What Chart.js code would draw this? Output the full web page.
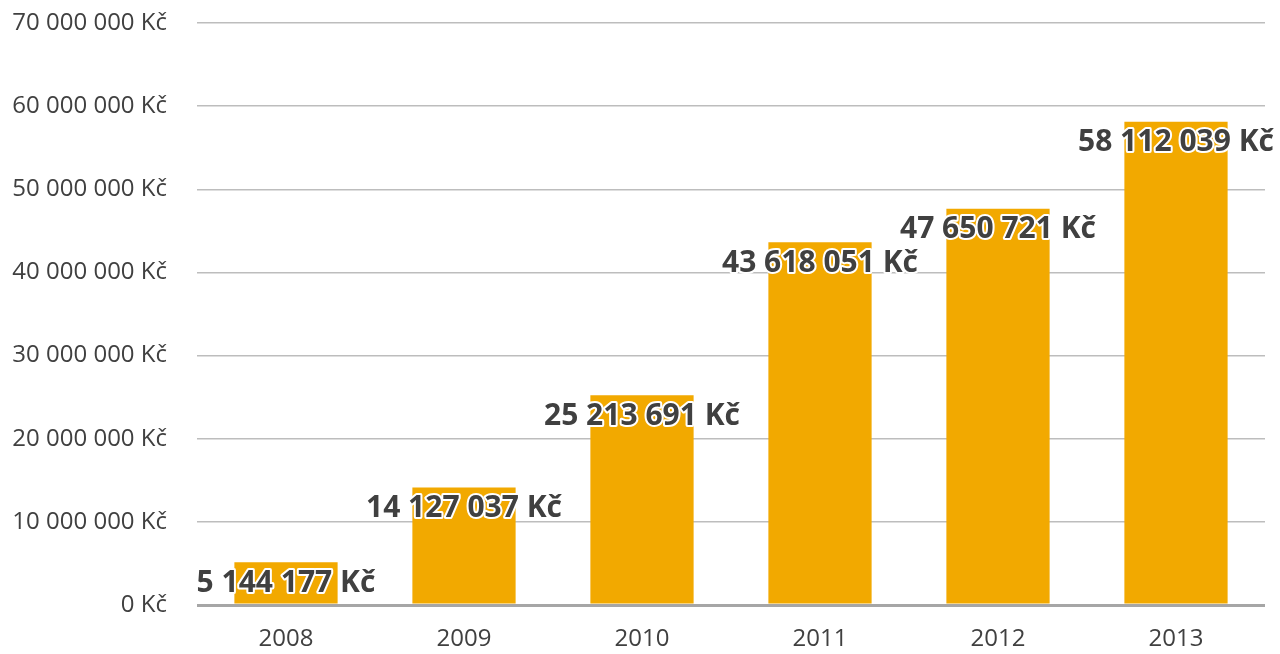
<!DOCTYPE html>
<html>
<head>
<meta charset="utf-8">
<script src="https://cdn.jsdelivr.net/npm/chart.js@4"></script>
<style>
  html, body { margin: 0; padding: 0; background: #fff; }
  #wrap { width: 1280px; height: 654px; }
</style>
</head>
<body>
<div id="wrap"><canvas id="kcChart"></canvas></div>
<script>
const years = ["2008", "2009", "2010", "2011", "2012", "2013"];
const amounts = [5144177, 14127037, 25213691, 43618051, 47650721, 58112039];

// 12 345 678 Kč
function formatKc(v) {
  return String(Math.round(v)).replace(/\B(?=(\d{3})+(?!\d))/g, " ") + " Kč";
}

const barLabels = {
  id: "barLabels",
  afterDatasetsDraw(chart) {
    const ctx = chart.ctx;
    const meta = chart.getDatasetMeta(0);
    ctx.save();
    ctx.font = "bold 30px 'Open Sans'";
    ctx.textAlign = "center";
    ctx.textBaseline = "middle";
    ctx.lineJoin = "round";
    meta.data.forEach((bar, i) => {
      const text = formatKc(amounts[i]);
      const y = bar.y + 21;
      ctx.strokeStyle = "#ffffff";
      ctx.lineWidth = 4;
      ctx.strokeText(text, bar.x, y);
      ctx.fillStyle = "#404040";
      ctx.fillText(text, bar.x, y);
    });
    ctx.restore();
  }
};

new Chart(document.getElementById("kcChart").getContext("2d"), {
  type: "bar",
  data: {
    labels: years,
    datasets: [
      {
        data: amounts,
        backgroundColor: "#f2a900",
        barPercentage: 0.58,
        categoryPercentage: 1.0,
      },
    ],
  },
  options: {
    responsive: true,
    maintainAspectRatio: false,
    animation: false,
    layout: { padding: { top: 23, right: 15, left: 0, bottom: 0 } },
    plugins: {
      legend: { display: false },
      tooltip: { enabled: false },
    },
    scales: {
      x: {
        grid: { display: false, drawTicks: false },
        border: { display: false },
        ticks: {
          color: "#404040",
          font: { family: "'Open Sans'", size: 24 },
          padding: 20,
        },
        afterFit: (s) => { s.height = 49; },
      },
      y: {
        min: 0,
        max: 70000000,
        border: { display: false },
        grid: {
          drawTicks: false,
          color: (c) => (c.tick && c.tick.value === 0 ? "#a6a6a6" : "#bdbdbd"),
          lineWidth: (c) => (c.tick && c.tick.value === 0 ? 3 : 1.5),
        },
        ticks: {
          stepSize: 10000000,
          color: "#404040",
          font: { family: "'Open Sans'", size: 24 },
          padding: 30,
          callback: (v) => formatKc(v),
        },
        afterFit: (s) => {
          s.width = 197;
          s.paddingTop = 0;
          s.paddingBottom = 0;
        },
      },
    },
  },
  plugins: [barLabels],
});
</script>
</body>
</html>
